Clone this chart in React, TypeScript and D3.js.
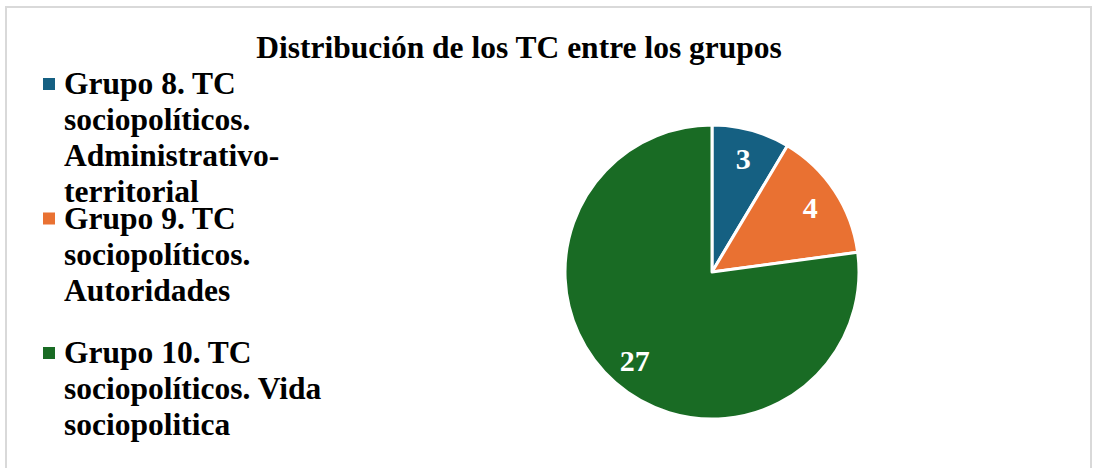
import React from "react";
import * as d3 from "d3";

const title = "Distribución de los TC entre los grupos";
const categories = [
  "Grupo 8. TC sociopolíticos. Administrativo-territorial",
  "Grupo 9. TC sociopolíticos. Autoridades",
  "Grupo 10. TC sociopolíticos. Vida sociopolitica",
];
const legendLines = [
  ["Grupo 8. TC", "sociopolíticos.", "Administrativo-", "territorial"],
  ["Grupo 9. TC", "sociopolíticos.", "Autoridades"],
  ["Grupo 10. TC", "sociopolíticos. Vida", "sociopolitica"],
];
// slice sizes
const values = [3, 5, 27];
// data labels as printed on the slices
const labels = ["3", "4", "27"];
const colors = ["#156082", "#E97132", "#196B24"];

const W = 1094;
const H = 468;
const FONT = "'Liberation Serif', 'Times New Roman', serif";

export default function App() {
  const cx = 712;
  const cy = 272;
  const r = 147;
  const pie = d3.pie<number>().sort(null).value((d) => d)(values);
  const arc = d3.arc<d3.PieArcDatum<number>>().innerRadius(0).outerRadius(r);
  const labelArc = d3
    .arc<d3.PieArcDatum<number>>()
    .innerRadius(r * 0.8)
    .outerRadius(r * 0.8);

  const legendY = d3.scaleLinear().domain([0, 1]).range([94, 228.5]);
  const lineH = 36;

  return (
    <svg
      width={W}
      height={H}
      style={{ position: "absolute", left: 0, top: 0, background: "#fff" }}
      fontFamily={FONT}
    >
      <rect x={6} y={7} width={1085} height={480} fill="#fff" stroke="#d9d9d9" strokeWidth={2} />
      <text x={519} y={58} textAnchor="middle" fontSize={31.5} fontWeight="bold" fill="#000">
        {title}
      </text>
      <g transform={`translate(${cx},${cy})`}>
        {pie.map((p, i) => (
          <path key={categories[i]} d={arc(p) || ""} fill={colors[i]} stroke="#fff" strokeWidth={3} strokeLinejoin="round" />
        ))}
        {pie.map((p, i) => {
          const [x, y] = labelArc.centroid(p);
          return (
            <text
              key={"l" + i}
              x={x}
              y={y}
              dy="0.35em"
              textAnchor="middle"
              fontSize={30}
              fontWeight="bold"
              fill="#fff"
            >
              {labels[i]}
            </text>
          );
        })}
      </g>
      {legendLines.map((lines, i) => {
        const y0 = legendY(i);
        return (
          <g key={"leg" + i}>
            <rect x={43} y={y0 - 16} width={12} height={12} fill={colors[i]} />
            {lines.map((ln, j) => (
              <text key={j} x={64} y={y0 + j * lineH} fontSize={31.5} fontWeight="bold" fill="#000">
                {ln}
              </text>
            ))}
          </g>
        );
      })}
    </svg>
  );
}
